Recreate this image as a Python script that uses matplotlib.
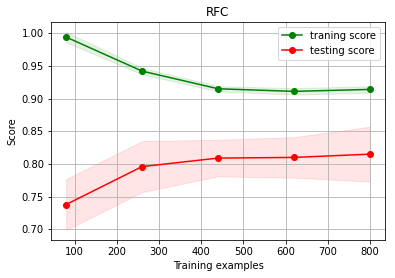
import matplotlib
matplotlib.use('Agg')
import matplotlib.pyplot as plt
import numpy as np

train_sizes = np.array([80, 260, 440, 620, 800])
train_mean = np.array([0.994, 0.942, 0.915, 0.911, 0.914])
train_std = np.array([0.008, 0.005, 0.004, 0.005, 0.005])
test_mean = np.array([0.738, 0.796, 0.809, 0.810, 0.815])
test_std = np.array([0.039, 0.039, 0.028, 0.031, 0.042])

fig = plt.figure(figsize=(395 / 72, 278 / 72), dpi=72)
ax = fig.add_subplot(111)
fig.subplots_adjust(left=0.129, right=0.975, top=0.921, bottom=0.137)

ax.set_title("RFC")
ax.set_xlabel("Training examples")
ax.set_ylabel("Score")
ax.grid()

ax.fill_between(train_sizes, train_mean - train_std, train_mean + train_std,
                alpha=0.1, color="g")
ax.fill_between(train_sizes, test_mean - test_std, test_mean + test_std,
                alpha=0.1, color="r")
ax.plot(train_sizes, train_mean, 'o-', color="g", label="traning score")
ax.plot(train_sizes, test_mean, 'o-', color="r", label="testing score")
ax.legend(loc="best")

fig.savefig("out.png", dpi=72)
